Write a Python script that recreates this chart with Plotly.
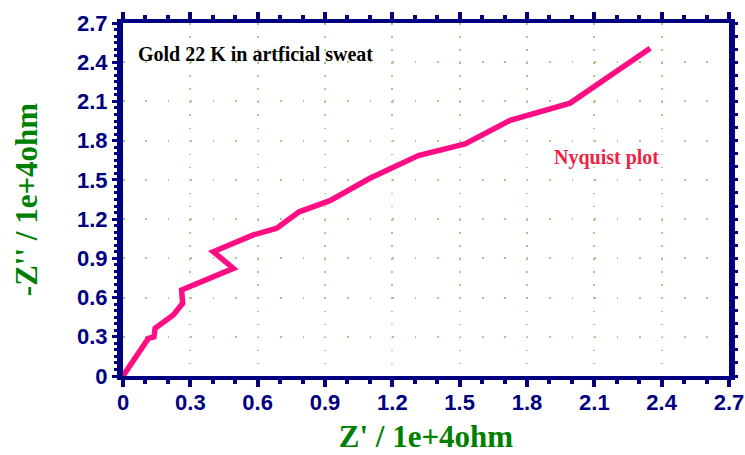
import plotly.graph_objects as go

# Nyquist data (units of 1e+4 ohm)
z_real = [0.0, 0.113, 0.138, 0.143, 0.224, 0.266, 0.261, 0.388, 0.492, 0.402,
          0.581, 0.685, 0.785, 0.922, 1.10, 1.316, 1.524, 1.725, 1.992, 2.349]
z_imag = [0.0, 0.288, 0.300, 0.365, 0.467, 0.556, 0.658, 0.747, 0.823, 0.951,
          1.079, 1.130, 1.256, 1.341, 1.512, 1.686, 1.775, 1.955, 2.087, 2.507]

tick_vals = [0, 0.3, 0.6, 0.9, 1.2, 1.5, 1.8, 2.1, 2.4, 2.7]
tick_text = ["0", "0.3", "0.6", "0.9", "1.2", "1.5", "1.8", "2.1", "2.4", "2.7"]

NAVY = "#000080"
GREEN = "#008000"
GRID = "#a8c98a"

fig = go.Figure()
fig.add_trace(go.Scatter(x=z_real, y=z_imag, mode="lines",
                         line=dict(color="#ff0d82", width=5.5),
                         showlegend=False, hoverinfo="skip"))
fig.add_trace(go.Scatter(x=[], y=[], yaxis="y2", showlegend=False))

W, H = 745, 455
ml, mr, mt, mb = 123, 16, 23, 79
pw = W - ml - mr
ph = H - mt - mb
dy = ph / 2.7 * 0.1
dx = pw / 2.7 * 0.1

TICKFONT = dict(family="Liberation Sans, Arial", size=22, color=NAVY, weight="bold")
TITLEFONT = dict(family="Liberation Serif, Times New Roman", size=31,
                 color=GREEN, weight="bold")

fig.update_layout(
    width=W, height=H,
    margin=dict(l=ml, r=mr, t=mt, b=mb, autoexpand=False),
    paper_bgcolor="white", plot_bgcolor="white",
    xaxis=dict(
        range=[0, 2.7], tickvals=tick_vals, ticktext=tick_text,
        showline=True, linecolor=NAVY, linewidth=4, mirror="ticks",
        ticks="outside", ticklen=7, tickwidth=4, tickcolor=NAVY,
        ticklabelstandoff=-3,
        minor=dict(dtick=0.1, tick0=0, ticks="outside", ticklen=4, tickwidth=4,
                   tickcolor=NAVY, showgrid=False),
        showgrid=True, gridcolor=GRID, gridwidth=1.5,
        griddash="1.5px,%.2fpx" % (dy - 1.5),
        zeroline=False,
        tickfont=TICKFONT,
        title=dict(text="Z' / 1e+4ohm", standoff=12, font=TITLEFONT),
    ),
    yaxis=dict(
        range=[0, 2.7], tickvals=tick_vals, ticktext=tick_text,
        showline=True, linecolor=NAVY, linewidth=6, mirror=False,
        ticks="outside", ticklen=5, tickwidth=3, tickcolor=NAVY,
        minor=dict(dtick=0.05, tick0=0, ticks="outside", ticklen=3, tickwidth=2.5,
                   tickcolor=NAVY, showgrid=False),
        showgrid=True, gridcolor=GRID, gridwidth=1.5,
        griddash="1.5px,%.2fpx" % (dx - 1.5),
        zeroline=False,
        tickfont=TICKFONT,
        title=dict(text="-Z'' / 1e+4ohm", standoff=32, font=TITLEFONT),
    ),
    yaxis2=dict(
        range=[0, 2.7], overlaying="y", side="right",
        showline=True, linecolor=NAVY, linewidth=6,
        ticks="outside", dtick=0.1, tick0=0, ticklen=3, tickwidth=2.5, tickcolor=NAVY,
        showticklabels=False, showgrid=False, zeroline=False,
    ),
    annotations=[
        dict(text="Gold 22 K in artficial sweat", x=0.06, y=2.46, xref="x", yref="y",
             xanchor="left", yanchor="middle", showarrow=False,
             font=dict(family="Liberation Serif, Times New Roman", size=20,
                       color="black", weight="bold")),
        dict(text="Nyquist plot", x=1.91, y=1.67, xref="x", yref="y",
             xanchor="left", yanchor="middle", showarrow=False,
             font=dict(family="Liberation Serif, Times New Roman", size=20,
                       color="#ef2246", weight="bold")),
    ],
)

fig.write_html("out.html")
